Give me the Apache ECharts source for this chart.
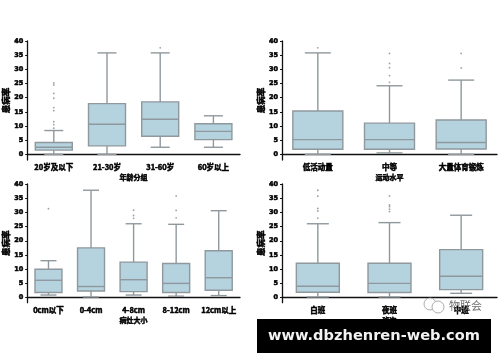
<!DOCTYPE html>
<html><head><meta charset="utf-8">
<style>html,body{margin:0;padding:0;background:#fff}#c{width:500px;height:362px}</style>
<script src="https://cdn.jsdelivr.net/npm/echarts@6/dist/echarts.min.js"></script>
</head><body><div id="c"></div>
<script>
// [low, q1, median, q3, high]
const ageCategories = ['20岁及以下','21-30岁','31-60岁','60岁以上'];
const ageBoxes = [[0,1.5,2.5,4.2,8.4],[0,3,10.6,17.9,35.8],[2.5,6.4,12.4,18.5,35.8],[2.5,5.2,8.1,10.8,13.6]];
const ageOutliers = [[0,25.2],[0,24.5],[0,21.5],[0,19.8],[0,16.5],[0,15.4],[0,11.5],[0,10.5],[0,9.2],[2,37.6]];

const activityCategories = ['低活动量','中等','大量体育锻炼'];
const activityBoxes = [[0,1.8,5.2,15.3,35.8],[0.5,1.8,5.2,11,24.2],[0,1.9,4.2,12.1,26.2]];
const activityOutliers = [[0,37.6],[1,25.4],[1,27.8],[1,30.6],[1,32.1],[1,35.6],[2,30.5],[2,35.6]];

const sizeCategories = ['0cm以下','0-4cm','4-8cm','8-12cm','12cm以上'];
const sizeBoxes = [[0.9,1.8,6.1,10,13],[0.2,2.3,3.9,17.5,37.8],[0.9,2.1,6.3,12.5,26],[0.5,1.8,5,12,25.8],[0.7,2.6,7,16.5,30.6]];
const sizeOutliers = [[0,31.3],[2,27.9],[2,28.9],[2,30.8],[3,28.1],[3,30.7],[3,35.8]];

const shiftCategories = ['白班','夜班','中班'];
const shiftBoxes = [[0.2,1.9,4,12.1,26],[0.2,1.8,5,12.1,26.4],[1.5,2.8,7.5,16.9,29]];
const shiftOutliers = [[0,28],[0,30.5],[0,31.4],[0,35.7],[0,37.8],[1,30.3],[1,31.1],[1,32],[1,32.6],[1,35.8]];

const yTicks = [0,5,10,15,20,25,30,35,40];
const yTitle = '患病率';
const xTitles = ['年龄分组','运动水平','病灶大小','班次'];

const panels = [
 {cats:ageCategories,boxes:ageBoxes,out:ageOutliers,left:25,top:41,h:119,min:-2,bw:37,cw:19,yGap:13},
 {cats:activityCategories,boxes:activityBoxes,out:activityOutliers,left:282,top:41,h:119,min:-2,bw:50,cw:26,yGap:13},
 {cats:sizeCategories,boxes:sizeBoxes,out:sizeOutliers,left:25,top:184,h:118.7,min:-1.8,bw:27,cw:16,yGap:13},
 {cats:shiftCategories,boxes:shiftBoxes,out:shiftOutliers,left:282,top:184,h:118.7,min:-1.8,bw:43,cw:22,yGap:13}
];
const font = '"Noto Sans CJK SC","DejaVu Sans",sans-serif';
const strokeC = '#8f989d', fillC = '#b4d3df';
const heavy = {textBorderColor:'#000',textBorderWidth:0.5};
const option = {animation:false,backgroundColor:'#fff',grid:[],xAxis:[],yAxis:[],series:[],
 graphic:[
  {type:'circle',z:50,shape:{cx:430,cy:304,r:6},style:{fill:'#fff',stroke:'#999',lineWidth:0.8}},
  {type:'circle',z:50,shape:{cx:438,cy:307,r:6},style:{fill:'#fff',stroke:'#999',lineWidth:0.8}},
  {type:'text',z:50,x:449,y:300,style:{text:'物联会',font:'11px '+font,fill:'#6f6f6f'}},
  {type:'rect',z:60,shape:{x:257,y:319,width:234,height:34},style:{fill:'#000'}},
  {type:'text',z:61,x:374,y:336,style:{text:'www.dbzhenren-web.com',font:'bold 14.6px "DejaVu Sans"',fill:'#f2f2f2',align:'center',verticalAlign:'middle'}}
 ]};
panels.forEach((p,i)=>{
 option.grid.push({left:p.left,top:p.top,width:215,height:p.h});
 option.xAxis.push({type:'category',gridIndex:i,data:p.cats,name:xTitles[i],nameLocation:'middle',nameGap:14,
  nameTextStyle:{color:'#000',fontSize:7,fontWeight:'bold',fontFamily:font,...heavy},
  axisLine:{lineStyle:{color:'#111',width:1.3}},axisTick:{alignWithLabel:true,length:2,lineStyle:{color:'#111'}},
  axisLabel:{color:'#000',fontSize:7.5,fontWeight:'bold',fontFamily:font,margin:3.5,interval:0,...heavy},splitLine:{show:false}});
 option.yAxis.push({type:'value',gridIndex:i,min:p.min,max:40,name:yTitle,nameLocation:'middle',nameGap:p.yGap,
  nameTextStyle:{color:'#000',fontSize:8.5,fontWeight:'bold',fontFamily:font,...heavy},
  axisLine:{show:true,lineStyle:{color:'#111',width:1.3}},
  axisTick:{show:true,length:2,customValues:yTicks,lineStyle:{color:'#111'}},
  axisLabel:{color:'#000',fontSize:6.5,fontWeight:'bold',fontFamily:'"DejaVu Sans"',margin:4,customValues:yTicks,...heavy},splitLine:{show:false}});
 option.series.push({type:'custom',xAxisIndex:i,yAxisIndex:i,clip:false,
  data:p.boxes.map((b,k)=>[k,...b]),encode:{x:0,y:[1,2,3,4,5]},
  renderItem:(params,api)=>{
   const k=api.value(0),c=v=>api.coord([k,v]),lo=c(api.value(1)),q1=c(api.value(2)),md=c(api.value(3)),q3=c(api.value(4)),hi=c(api.value(5));
   const x=lo[0],b=p.bw/2,w=p.cw/2,ls={stroke:strokeC,lineWidth:1.4,fill:null};
   const ln=(x1,y1,x2,y2)=>({type:'line',shape:{x1,y1,x2,y2},style:ls});
   return {type:'group',children:[
    ln(x,lo[1],x,q1[1]),ln(x,q3[1],x,hi[1]),ln(x-w,lo[1],x+w,lo[1]),ln(x-w,hi[1],x+w,hi[1]),
    {type:'rect',shape:{x:x-b,y:q3[1],width:p.bw,height:q1[1]-q3[1]},style:{fill:fillC,stroke:strokeC,lineWidth:1.4}},
    ln(x-b,md[1],x+b,md[1])
   ]};
  }});
 option.series.push({type:'scatter',xAxisIndex:i,yAxisIndex:i,data:p.out,symbolSize:1.8,itemStyle:{color:'#888'}});
});
echarts.init(document.getElementById('c'),null,{renderer:'canvas'}).setOption(option);
</script></body></html>
